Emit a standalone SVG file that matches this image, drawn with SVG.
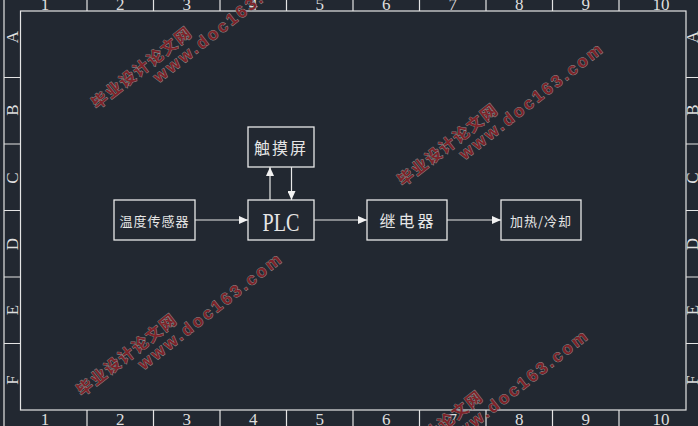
<svg xmlns="http://www.w3.org/2000/svg" width="698" height="426" viewBox="0 0 698 426">
<defs>
<style>
.frame{stroke:#e4e4e4;stroke-width:1.2;fill:none}
.box{stroke:#e8e8e8;stroke-width:1.3;fill:none}
.conn{stroke:#e8e8e8;stroke-width:1.2;fill:none}
.num{font-family:"Liberation Serif",serif;font-size:17px;fill:#dedede;text-anchor:middle}
.cjk{font-family:"Noto Sans CJK SC",sans-serif;fill:#e6e6e6;text-anchor:middle;dominant-baseline:central}
.wmc{font-family:"Noto Sans CJK SC",sans-serif;font-weight:bold;font-size:16px;fill:#7e2329;stroke:#8c8c8c;stroke-width:0.9;paint-order:stroke}
.wme{font-family:"Liberation Sans",Arial,sans-serif;font-weight:bold;font-size:17px;fill:#7e2329;stroke:#8c8c8c;stroke-width:0.9;paint-order:stroke}
</style>
<marker id="ah" markerWidth="9" markerHeight="8" refX="9" refY="4" orient="auto" markerUnits="userSpaceOnUse">
<path d="M0,0 L9,4 L0,8 Z" fill="#f2f2f2"/>
</marker>
</defs>
<rect x="0" y="0" width="698" height="426" fill="#222831"/>

<g id="frame">
<rect class="frame" x="20.5" y="11" width="665.5" height="399"/>
<path class="frame" d="M4,0 V426"/>
<path class="frame" d="M87,0 V11 M153.5,0 V11 M220,0 V11 M286.5,0 V11 M353,0 V11 M419.5,0 V11 M486,0 V11 M552.5,0 V11 M619,0 V11"/>
<path class="frame" d="M87,410 V426 M153.5,410 V426 M220,410 V426 M286.5,410 V426 M353,410 V426 M419.5,410 V426 M486,410 V426 M552.5,410 V426 M619,410 V426"/>
<path class="frame" d="M4,77.5 H20.5 M4,144 H20.5 M4,210.5 H20.5 M4,277 H20.5 M4,343.5 H20.5"/>
<path class="frame" d="M686,77.5 H698 M686,144 H698 M686,210.5 H698 M686,277 H698 M686,343.5 H698"/>
<g class="num">
<text x="45" y="10">1</text><text x="120.3" y="10">2</text><text x="186.8" y="10">3</text><text x="253.3" y="10">4</text><text x="319.8" y="10">5</text><text x="386.3" y="10">6</text><text x="452.8" y="10">7</text><text x="519.3" y="10">8</text><text x="585.8" y="10">9</text><text x="661" y="10">10</text>
<text x="45" y="425">1</text><text x="120.3" y="425">2</text><text x="186.8" y="425">3</text><text x="253.3" y="425">4</text><text x="319.8" y="425">5</text><text x="386.3" y="425">6</text><text x="452.8" y="425">7</text><text x="519.3" y="425">8</text><text x="585.8" y="425">9</text><text x="661" y="425">10</text>
</g>
<g class="num" dominant-baseline="central">
<text transform="translate(12,37) rotate(-90)">A</text>
<text transform="translate(12,110) rotate(-90)">B</text>
<text transform="translate(12,178) rotate(-90)">C</text>
<text transform="translate(12,244) rotate(-90)">D</text>
<text transform="translate(12,310) rotate(-90)">E</text>
<text transform="translate(12,380) rotate(-90)">F</text>
<text transform="translate(692,37) rotate(-90)">A</text>
<text transform="translate(692,110) rotate(-90)">B</text>
<text transform="translate(692,178) rotate(-90)">C</text>
<text transform="translate(692,244) rotate(-90)">D</text>
<text transform="translate(692,310) rotate(-90)">E</text>
<text transform="translate(692,380) rotate(-90)">F</text>
</g>
</g>

<g id="connectors">
<path class="conn" d="M195,220 H248" marker-end="url(#ah)"/>
<path class="conn" d="M314,220 H367" marker-end="url(#ah)"/>
<path class="conn" d="M447,220 H501" marker-end="url(#ah)"/>
<path class="conn" d="M270,200 V167" marker-end="url(#ah)"/>
<path class="conn" d="M291.5,167 V200" marker-end="url(#ah)"/>
</g>

<g id="sensor">
<rect class="box" x="114" y="200" width="81" height="40"/>
<text class="cjk" x="154.5" y="220" font-size="13" letter-spacing="1">温度传感器</text>
</g>
<g id="plc">
<rect class="box" x="248" y="200" width="66" height="40"/>
<text x="281" y="231" font-family="Liberation Serif,serif" font-size="25" fill="#e6e6e6" text-anchor="middle" textLength="37" lengthAdjust="spacingAndGlyphs">PLC</text>
</g>
<g id="touchscreen">
<rect class="box" x="248" y="127" width="66" height="40"/>
<text class="cjk" x="281" y="147" font-size="16" letter-spacing="2">触摸屏</text>
</g>
<g id="relay">
<rect class="box" x="367" y="200" width="80" height="40"/>
<text class="cjk" x="408" y="220" font-size="16" letter-spacing="3">继电器</text>
</g>
<g id="heatcool">
<rect class="box" x="501" y="200" width="80" height="40"/>
<text class="cjk" x="541" y="220" font-size="13" letter-spacing="1">加热/冷却</text>
</g>

<g id="watermarks">
<g transform="translate(97,110) rotate(-38)">
<text class="wmc" x="0" y="0" textLength="121" lengthAdjust="spacing">毕业设计论文网</text>
<text class="wme" x="65" y="17" textLength="176" lengthAdjust="spacing">www.doc163.com</text>
</g>
<g transform="translate(403,187) rotate(-38)">
<text class="wmc" x="0" y="0" textLength="121" lengthAdjust="spacing">毕业设计论文网</text>
<text class="wme" x="65" y="17" textLength="176" lengthAdjust="spacing">www.doc163.com</text>
</g>
<g transform="translate(82,397) rotate(-38)">
<text class="wmc" x="0" y="0" textLength="121" lengthAdjust="spacing">毕业设计论文网</text>
<text class="wme" x="65" y="17" textLength="176" lengthAdjust="spacing">www.doc163.com</text>
</g>
<g transform="translate(388,474) rotate(-38)">
<text class="wmc" x="0" y="0" textLength="121" lengthAdjust="spacing">毕业设计论文网</text>
<text class="wme" x="65" y="17" textLength="176" lengthAdjust="spacing">www.doc163.com</text>
</g>
</g>
</svg>
